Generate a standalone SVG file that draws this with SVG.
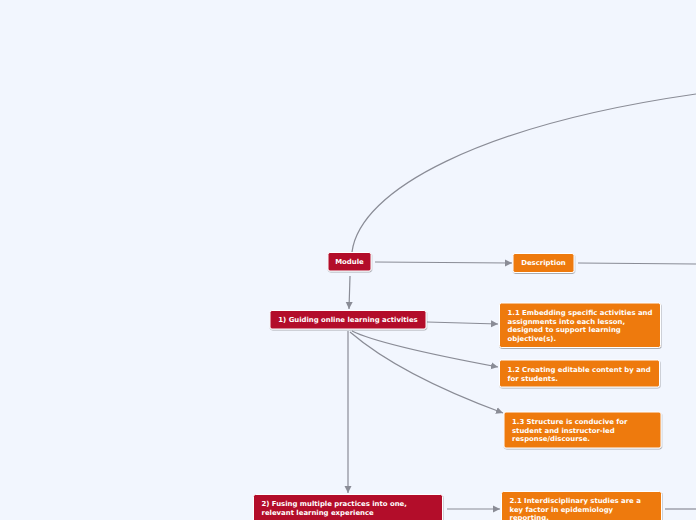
<svg xmlns="http://www.w3.org/2000/svg" width="696" height="520" viewBox="0 0 696 520">
<defs>
<marker id="arr" markerWidth="8" markerHeight="8" refX="7" refY="4" orient="auto" markerUnits="userSpaceOnUse">
<path d="M0,0.5 L7,4 L0,7.5 Z" fill="#8a8c96"/>
</marker>
<filter id="sh" x="-10%" y="-20%" width="120%" height="150%">
<feDropShadow dx="0.5" dy="1" stdDeviation="0.6" flood-color="#000" flood-opacity="0.3"/>
</filter>
</defs>
<style>
.bg{fill:#f2f6fe}
.c{fill:none;stroke:#8a8c96;stroke-width:1.2}
.red{fill:#b30b2a;stroke:#ffffff;stroke-width:1;filter:url(#sh)}
.org{fill:#ee7a10;stroke:#ffffff;stroke-width:1;filter:url(#sh)}
text{font-family:"DejaVu Sans","Liberation Sans",sans-serif;font-weight:bold;font-size:6.9px;fill:#ffffff}
</style>
<rect class="bg" x="0" y="0" width="696" height="520"/>
<g id="connectors">
<path class="c" d="M352,252 C360,190 480,125 696,94"/>
<path class="c" d="M375,262 L512,263" marker-end="url(#arr)"/>
<path class="c" d="M578,263 L696,264"/>
<path class="c" d="M350,276 L349,309" marker-end="url(#arr)"/>
<path class="c" d="M427,322 L498,324" marker-end="url(#arr)"/>
<path class="c" d="M352,331 Q380,345 498,367" marker-end="url(#arr)"/>
<path class="c" d="M350,332 Q400,375 503,413" marker-end="url(#arr)"/>
<path class="c" d="M348,331 L348,493" marker-end="url(#arr)"/>
<path class="c" d="M447,509 L500,509" marker-end="url(#arr)"/>
<path class="c" d="M665,509 L696,509"/>
</g>
<g id="module">
<rect class="red" x="328" y="252.5" width="43" height="18.5" rx="2"/>
<text x="349.5" y="264.4" text-anchor="middle">Module</text>
</g>
<g id="description">
<rect class="org" x="513" y="253.5" width="61" height="19" rx="2"/>
<text x="543.5" y="265.4" text-anchor="middle">Description</text>
</g>
<g id="n1">
<rect class="red" x="270" y="310.5" width="156" height="18.5" rx="2"/>
<text x="348" y="322.4" text-anchor="middle">1) Guiding online learning activities</text>
</g>
<g id="n1_1">
<rect class="org" x="499.5" y="303" width="161" height="44.5" rx="2"/>
<text x="507.5" y="315">1.1 Embedding specific activities and</text>
<text x="507.5" y="323.5">assignments into each lesson,</text>
<text x="507.5" y="332">designed to support learning</text>
<text x="507.5" y="340.5">objective(s).</text>
</g>
<g id="n1_2">
<rect class="org" x="499.5" y="360" width="160" height="27" rx="2"/>
<text x="507.5" y="372">1.2 Creating editable content by and</text>
<text x="507.5" y="380.5">for students.</text>
</g>
<g id="n1_3">
<rect class="org" x="504" y="412" width="157" height="36" rx="2"/>
<text x="512" y="424">1.3 Structure is conducive for</text>
<text x="512" y="432.5">student and instructor-led</text>
<text x="512" y="441">response/discourse.</text>
</g>
<g id="n2">
<rect class="red" x="253.5" y="494.5" width="189" height="34" rx="2"/>
<text x="261.5" y="505.5">2) Fusing multiple practices into one,</text>
<text x="261.5" y="514.5">relevant learning experience</text>
</g>
<g id="n2_1">
<rect class="org" x="501.5" y="491.5" width="160" height="36" rx="2"/>
<text x="509.5" y="503">2.1 Interdisciplinary studies are a</text>
<text x="509.5" y="511.5">key factor in epidemiology</text>
<text x="509.5" y="520">reporting.</text>
</g>
</svg>
